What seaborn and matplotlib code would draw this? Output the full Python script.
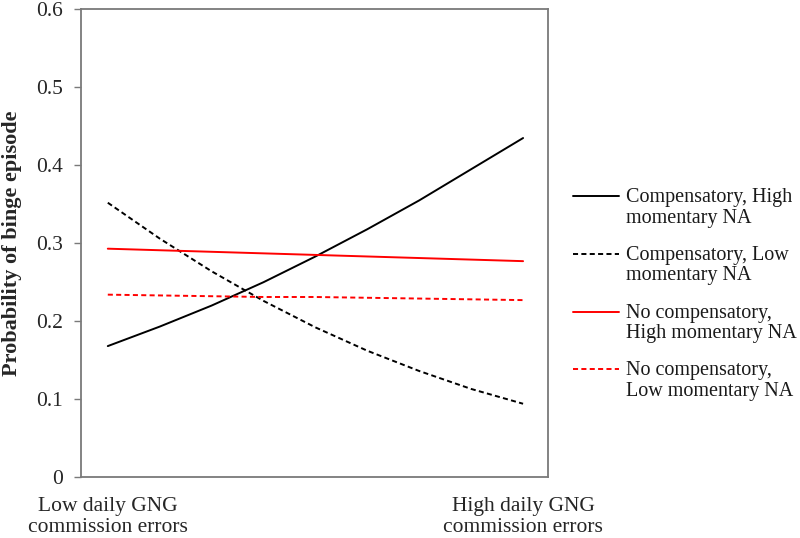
import numpy as np
import pandas as pd
import matplotlib
matplotlib.use("Agg")
import matplotlib.pyplot as plt
import seaborn as sns
from matplotlib.legend_handler import HandlerLine2D

# standardized GNG commission errors, low -> high
gng_level = [0, 0.125, 0.25, 0.375, 0.5, 0.625, 0.75, 0.875, 1]

comp_high_na = [0.168, 0.193, 0.220, 0.250, 0.283, 0.318, 0.355, 0.395, 0.435]
comp_low_na = [0.352, 0.306, 0.264, 0.226, 0.192, 0.162, 0.136, 0.113, 0.094]
nocomp_high_na = [0.293, 0.291, 0.289, 0.287, 0.285, 0.283, 0.281, 0.279, 0.277]
nocomp_low_na = [0.234, 0.233, 0.232, 0.231, 0.231, 0.230, 0.229, 0.228, 0.227]

series_labels = ["Compensatory, High\nmomentary NA",
                 "Compensatory, Low\nmomentary NA",
                 "No compensatory,\nHigh momentary NA",
                 "No compensatory,\nLow momentary NA"]
x_ticklabels = ["Low daily GNG\ncommission errors", "High daily GNG\ncommission errors"]
y_ticks = [0, 0.1, 0.2, 0.3, 0.4, 0.5, 0.6]
y_ticklabels = ["0", "0.1", "0.2", "0.3", "0.4", "0.5", "0.6"]


class TopLine(HandlerLine2D):
    # put the legend line next to the first text line, not the middle
    def create_artists(self, legend, orig_handle, xdescent, ydescent,
                       width, height, fontsize, trans):
        artists = super().create_artists(legend, orig_handle, xdescent, ydescent,
                                         width, height, fontsize, trans)
        for a in artists:
            a.set_ydata(np.asarray(a.get_ydata()) + 0.58 * fontsize)
        return artists


sns.set_style("white")
plt.rcParams["font.family"] = ["Liberation Serif", "DejaVu Serif"]
plt.rcParams["text.color"] = "#1a1a1a"

fig = plt.figure(figsize=(8, 5.38), dpi=100)
ax = fig.add_axes([0.101, 0.1134, 0.584, 0.869])

styles = [("black", "-"), ("black", (0, (2.6, 1.7))),
          ("#ff0000", "-"), ("#ff0000", (0, (2.6, 1.7)))]
for vals, lab, (col, ls) in zip([comp_high_na, comp_low_na, nocomp_high_na, nocomp_low_na],
                                series_labels, styles):
    sns.lineplot(x=gng_level, y=vals, color=col, linestyle=ls, linewidth=1.4,
                 label=lab, ax=ax)

if ax.get_legend() is not None:
    ax.get_legend().remove()

ax.set_xlim(-0.065, 1.06)
ax.set_ylim(0, 0.6)
ax.set_xticks([0, 1])
ax.set_xticklabels(x_ticklabels, fontsize=15.5, linespacing=1.1)
ax.set_yticks(y_ticks)
ax.set_yticklabels(y_ticklabels, fontsize=15.5)
ax.tick_params(axis="x", length=0, pad=14.5)
ax.tick_params(axis="y", length=5, width=1, color="#7a7a7a", pad=8, left=True)
ax.set_xlabel("")
ax.set_ylabel("Probability of binge episode", fontsize=16, fontweight="bold", labelpad=10)

for sp in ax.spines.values():
    sp.set_color("#7a7a7a")
    sp.set_linewidth(1.3)

handles, labels = ax.get_legend_handles_labels()
leg = fig.legend(handles, labels, loc="center left", bbox_to_anchor=(0.716, 0.4526),
                 frameon=False, fontsize=14.5, handlelength=2.3, handletextpad=0.35,
                 labelspacing=0.9, borderpad=0, borderaxespad=0,
                 handler_map={h: TopLine() for h in handles})
for t in leg.get_texts():
    t.set_linespacing(1.12)

fig.savefig("out.png", dpi=100)
